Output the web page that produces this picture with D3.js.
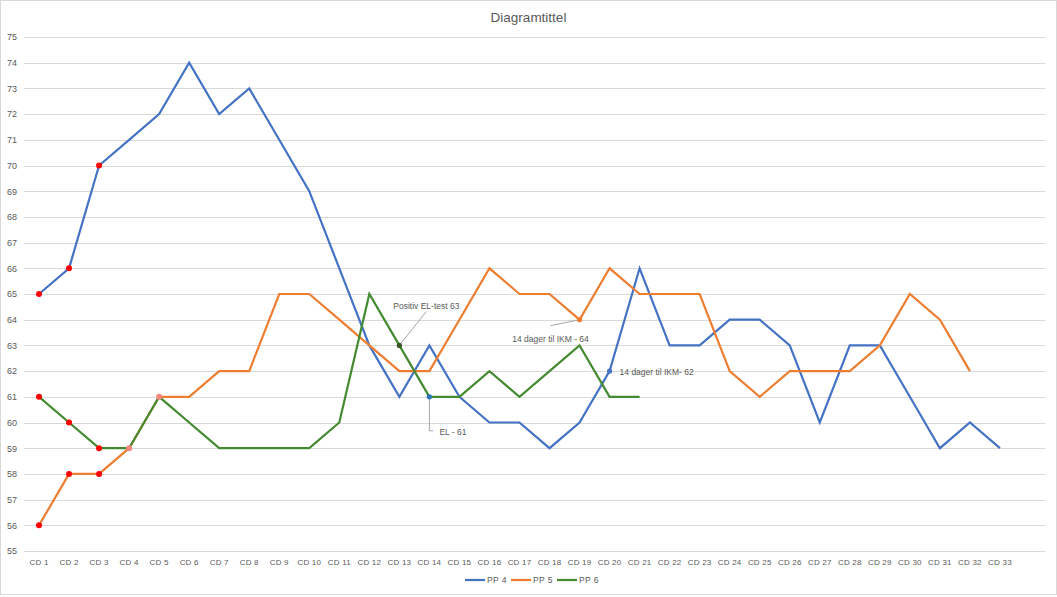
<!DOCTYPE html>
<html>
<head>
<meta charset="utf-8">
<script src="https://cdn.jsdelivr.net/npm/d3@7"></script>
<style>
  body { margin: 0; background: #fff; }
  text { font-family: "Liberation Sans", "DejaVu Sans", sans-serif; fill: #595959; }
</style>
</head>
<body>
<div id="chart"></div>
<script>
//chart data
const categories = d3.range(1, 34).map(i => "CD " + i);
const pp4 = [65, 66, 70, 71, 72, 74, 72, 73, 71, 69, 66, 63, 61, 63, 61, 60, 60, 59, 60, 62, 66, 63, 63, 64, 64, 63, 60, 63, 63, 61, 59, 60, 59];
const pp5 = [56, 58, 58, 59, 61, 61, 62, 62, 65, 65, 64, 63, 62, 62, 64, 66, 65, 65, 64, 66, 65, 65, 65, 62, 61, 62, 62, 62, 63, 65, 64, 62];
const pp6 = [61, 60, 59, 59, 61, 60, 59, 59, 59, 59, 60, 65, 63, 61, 61, 62, 61, 62, 63, 61, 61];
const seriesNames = ["PP4", "PP5", "PP6"];
const seriesColors = ["#4472C4", "#ED7D31", "#438a30"];
const yTicks = d3.range(55, 76);

//highlighted points: [series index, category index, colour]
const markedPoints = [
  [0, 0, "#ff0000"], [0, 1, "#ff0000"], [0, 2, "#ff0000"],
  [1, 0, "#ff0000"], [1, 1, "#ff0000"], [1, 2, "#ff0000"], [1, 3, "#f4877f"], [1, 4, "#f4877f"],
  [2, 0, "#ff0000"], [2, 1, "#ff0000"], [2, 2, "#ff0000"]
];
//annotated points: [series index, category index, label]
const notes = [
  [2, 12, "Positiv EL-test 63"],
  [2, 13, "EL - 61"],
  [1, 18, "14 dager til IKM - 64"],
  [0, 19, "14 dager til IKM- 62"]
];
const noteColors = ["#375623", "#2e75b6", "#ED7D31", "#4472C4"];

const width = 1057, height = 597;
const margin = {top: 37, right: 12, bottom: 46, left: 24};

let svg = d3.select("#chart").append("svg")
  .attr("width", width).attr("height", height);

//outer border
svg.append("rect")
  .attr("x", 0.5).attr("y", 0.5).attr("width", width - 1).attr("height", height - 3)
  .attr("fill", "none").attr("stroke", "#d9d9d9");

//one empty slot after the last category, as in the original plot area
let x = d3.scaleBand().domain(categories.concat([""])).range([margin.left, width - margin.right]);
let y = d3.scaleLinear().domain([55, 75]).range([height - margin.bottom, margin.top]);
const cx = i => x(categories[i]) + x.bandwidth() / 2;

//grid lines
svg.append("g").selectAll("line").data(yTicks).join("line")
  .attr("x1", margin.left).attr("x2", width - margin.right)
  .attr("y1", d => Math.round(y(d)) + 0.5).attr("y2", d => Math.round(y(d)) + 0.5)
  .attr("stroke", "#d9d9d9").attr("stroke-width", 1);

//y axis labels
svg.append("g")
  .attr("transform", `translate(${margin.left},0)`)
  .call(d3.axisLeft(y).tickValues(yTicks).tickSize(0).tickPadding(7))
  .call(g => g.select(".domain").remove())
  .selectAll("text").style("font-size", "9px").attr("fill", "#595959");

//x axis labels
svg.append("g")
  .attr("transform", `translate(0,${height - margin.bottom})`)
  .call(d3.axisBottom(x).tickValues(categories).tickSize(0).tickPadding(8))
  .call(g => g.select(".domain").remove())
  .selectAll("text").style("font-size", "8px").style("letter-spacing", "0.2px").attr("fill", "#595959");

//title
svg.append("text")
  .attr("x", width / 2).attr("y", 22)
  .attr("text-anchor", "middle")
  .style("font-size", "13.5px")
  .text("Diagramtittel");

//lines
const allSeries = [pp4, pp5, pp6];
let line = d3.line().x((d, i) => cx(i)).y(d => y(d));
svg.append("g").selectAll("path").data(allSeries).join("path")
  .attr("d", d => line(d))
  .attr("fill", "none")
  .attr("stroke", (d, i) => seriesColors[i])
  .attr("stroke-width", 2.2)
  .attr("stroke-linejoin", "miter");

//marked points
svg.append("g").selectAll("circle").data(markedPoints).join("circle")
  .attr("cx", d => cx(d[1]))
  .attr("cy", d => y(allSeries[d[0]][d[1]]))
  .attr("r", 3)
  .attr("fill", d => d[2]);

//annotations: label offset from point, leader line points
const noteOffsets = [
  {tx: 27, ty: -36, anchor: "middle", leader: [[0, 0], [27, -34]]},
  {tx: 10, ty: 38, anchor: "start", leader: [[0, 0], [0, 34], [4, 34]]},
  {tx: -29, ty: 22, anchor: "middle", leader: [[0, 0], [-29, 6]]},
  {tx: 10, ty: 4, anchor: "start", leader: null}
];
let noteG = svg.append("g");
notes.forEach(function(n, k) {
  let px = cx(n[1]), py = y(allSeries[n[0]][n[1]]);
  let o = noteOffsets[k];
  if (o.leader) {
    noteG.append("path")
      .attr("d", d3.line()(o.leader.map(p => [px + p[0], py + p[1]])))
      .attr("fill", "none").attr("stroke", "#a6a6a6").attr("stroke-width", 1);
  }
  noteG.append("circle").attr("cx", px).attr("cy", py).attr("r", 2.6).attr("fill", noteColors[k]);
  noteG.append("text")
    .attr("x", px + o.tx).attr("y", py + o.ty)
    .attr("text-anchor", o.anchor)
    .style("font-size", "8.5px")
    .attr("fill", "#404040")
    .text(n[2]);
});

//legend
const legendX = [465, 511, 557];
let legend = svg.append("g").selectAll("g").data(seriesNames).join("g")
  .attr("transform", (d, i) => `translate(${legendX[i]},580)`);
legend.append("line")
  .attr("x1", 0).attr("x2", 20).attr("y1", 0).attr("y2", 0)
  .attr("stroke", (d, i) => seriesColors[i]).attr("stroke-width", 2.2);
legend.append("text")
  .attr("x", 22).attr("y", 3)
  .style("font-size", "8.5px").style("letter-spacing", "0.4px")
  .text(d => d.replace("PP", "PP "));
</script>
</body>
</html>
